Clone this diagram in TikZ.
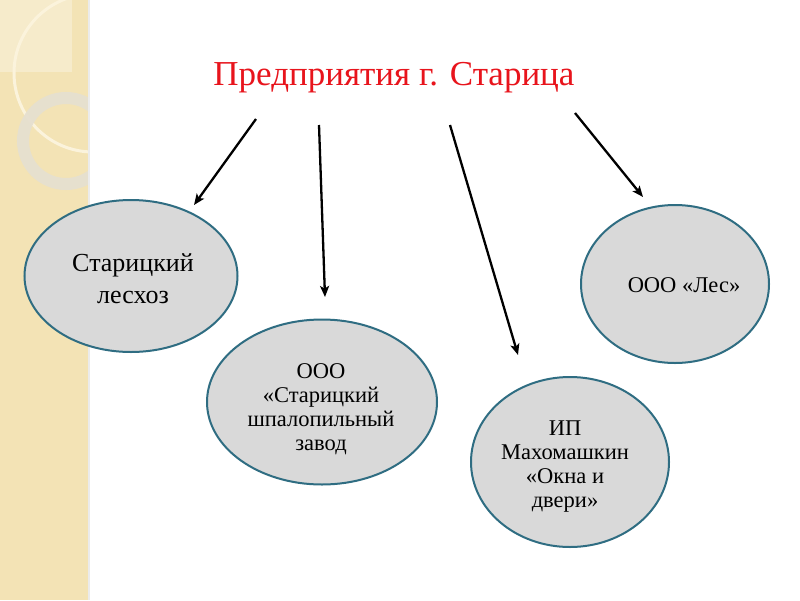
\documentclass[tikz,border=0pt]{standalone}
\usepackage{fontspec}
\setmainfont{Liberation Serif}
\usetikzlibrary{shapes.geometric,arrows.meta}
\definecolor{stripbg}{HTML}{F3E3B5}
\definecolor{stripsq}{HTML}{F6EBCB}
\definecolor{ringA}{HTML}{FBF3DC}
\definecolor{ringB}{HTML}{E6E0D0}
\definecolor{ellfill}{HTML}{D9D9D9}
\definecolor{elldraw}{HTML}{2F6D82}
\definecolor{titlered}{HTML}{E8141C}
\tikzset{
  firm/.style={ellipse, draw=elldraw, line width=2pt, fill=ellfill, inner sep=0pt},
  firmlabel/.style={align=center, text=black, inner sep=0pt, font=\fontsize{22.5}{24}\selectfont},
  link/.style={line width=2.3pt, -{Stealth[length=11pt,width=9pt,inset=2.5pt]}}
}
\begin{document}
\begin{tikzpicture}[x=1pt,y=-1pt]
\useasboundingbox (0,0) rectangle (800,600);
\fill[white] (0,0) rectangle (800,600);
% decorative strip
\fill[stripbg] (0,0) rectangle (88,600);
\begin{scope}
\clip (0,0) rectangle (88,600);
\fill[stripsq] (0,0) rectangle (72,72);
\draw[ringA, line width=3pt] (93,73) circle (79);
\draw[ringB, line width=12pt, opacity=0.95] (66,141) circle (43);
\end{scope}
\fill[black!8] (88,0) rectangle (90,600);
% title
\node[text=titlered, font=\fontsize{35}{40}\selectfont, anchor=base] (title) at (394,85) {Предприятия г. Старица};
% ellipses
\node[firm, minimum width=213pt, minimum height=152pt] (e1) at (131,276) {};
\node[firm, minimum width=230pt, minimum height=165pt] (e2) at (322,402) {};
\node[firm, minimum width=198pt, minimum height=170pt] (e3) at (570,462) {};
\node[firm, minimum width=188pt, minimum height=158pt] (e4) at (675,284) {};
% labels
\node[firmlabel, font=\fontsize{26}{32}\selectfont] (l1) at (133,279) {Старицкий\\лесхоз};
\node[firmlabel] (l2) at (321,409) {ООО\\«Старицкий\\шпалопильный\\завод};
\node[firmlabel] (l3) at (565,467) {ИП\\Махомашкин\\«Окна и\\двери»};
\node[firmlabel] (l4) at (684,285) {ООО «Лес»};
% arrows
\coordinate (s1) at (256,119); \coordinate (t1) at (194,205);
\coordinate (s2) at (319,125); \coordinate (t2) at (325,297);
\coordinate (s3) at (450,125); \coordinate (t3) at (518,355);
\coordinate (s4) at (575,113); \coordinate (t4) at (643,197);
\draw[link] (s1) -- (t1);
\draw[link] (s2) -- (t2);
\draw[link] (s3) -- (t3);
\draw[link] (s4) -- (t4);
\end{tikzpicture}
\end{document}
